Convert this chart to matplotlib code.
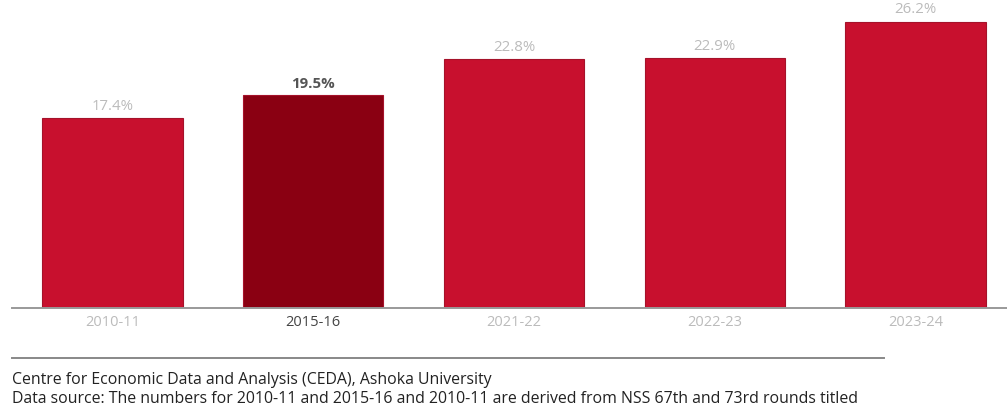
import matplotlib.pyplot as plt

years = ['2010-11', '2015-16', '2021-22', '2022-23', '2023-24']
shares = [17.4, 19.5, 22.8, 22.9, 26.2]
highlight = '2015-16'

credit = 'Centre for Economic Data and Analysis (CEDA), Ashoka University'
source = ('Data source: The numbers for 2010-11 and 2015-16 and 2010-11 are derived '
          'from NSS 67th and 73rd rounds titled')

plt.rcParams['font.family'] = ['Open Sans', 'DejaVu Sans']

fig = plt.figure(figsize=(10.07, 4.09), dpi=100)
ax = fig.add_axes([12 / 1007, 1 - 308 / 409, 1004 / 1007, 308 / 409])

colors = ['#8a0012' if y == highlight else '#c8102e' for y in years]
x = range(len(years))
ax.bar(x, shares, width=0.7, color=colors, edgecolor='#a5122a', linewidth=0.8)

for i, (y, v) in enumerate(zip(years, shares)):
    if y == highlight:
        ax.text(i, v + 0.4, f'{v}%', ha='center', va='bottom', fontsize=10.8,
                color='#555555', fontweight='bold')
    else:
        ax.text(i, v + 0.4, f'{v}%', ha='center', va='bottom', fontsize=10.8,
                color='#bbbbbb')

ax.set_xlim(-0.5, 4.5)
ax.set_ylim(0, 28.2)
ax.set_xticks(list(x))
ax.set_xticklabels(years, fontsize=10.5)
for lbl in ax.get_xticklabels():
    lbl.set_color('#444444' if lbl.get_text() == highlight else '#bbbbbb')
ax.tick_params(axis='x', length=0, pad=5)
ax.set_yticks([])
for side in ['top', 'right', 'left']:
    ax.spines[side].set_visible(False)
ax.spines['bottom'].set_color('#999999')
ax.spines['bottom'].set_linewidth(1.4)

# footer: separator rule and source notes
fig.add_artist(plt.Line2D([12 / 1007, 884 / 1007], [1 - 358 / 409] * 2,
                          color='#888888', linewidth=1.4))
fig.text(12 / 1007, 1 - 380 / 409, credit, fontsize=11.4, color='#222222', va='center')
fig.text(12 / 1007, 1 - 399 / 409, source, fontsize=11.4, color='#222222', va='center')

fig.savefig('out.png', dpi=100)
